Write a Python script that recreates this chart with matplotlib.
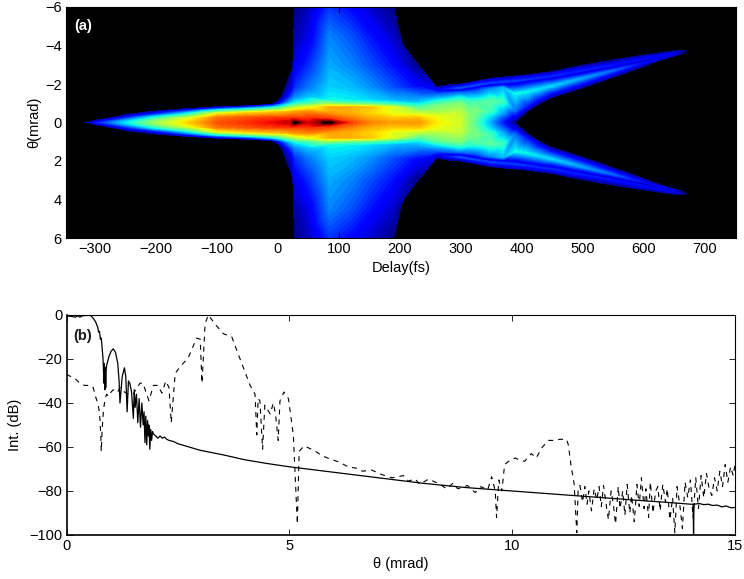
import numpy as np
import matplotlib
matplotlib.use("Agg")
import matplotlib.pyplot as plt
import matplotlib.tri as mtri

plt.rcParams['font.family'] = ['Liberation Sans', 'DejaVu Sans']
plt.rcParams['font.size'] = 10.5
plt.rcParams['text.color'] = '#1a1a1a'

# panel (a), column by column, half of the symmetric map
delays = [-318, -300, -250, -200, -150, -100, -50, -10, 20, 28, 50, 85, 120, 150,
          190, 230, 260, 300, 325, 350, 370, 390, 410, 430, 450, 500, 550, 600, 650, 690]

theta_nodes = [
    [0, .01, .02, .03, .04, .05, .06, .07, .08, 6],
    [0, .03, .06, .09, .12, .14, .16, .18, .2, 6],
    [0, .1, .2, .3, .38, .42, .45, .5, .6, 6],
    [0, .15, .3, .45, .55, .6, .62, .7, .8, 6],
    [0, .2, .4, .55, .65, .72, .75, .8, .9, 6],
    [0, .25, .45, .65, .75, .82, .85, .9, 1, 6],
    [0, .25, .5, .7, .8, .87, .9, .95, 1, 6],
    [0, .25, .55, .75, .88, .95, 1.0, 1.05, 1.1, 6],
    [0, .25, .55, .8, 1.0, 1.3, 1.7, 2.5, 2.7, 6],
    [0, .25, .55, .8, 1, 1.3, 1.8, 3, 4.5, 6],
    [0, .25, .55, .8, 1, 1.3, 1.8, 3, 4.5, 6],
    [0, .2, .5, .8, .95, 1.15, 1.8, 3, 4.5, 6],
    [0, .2, .5, .8, .95, 1.15, 1.8, 3, 4.5, 6],
    [0, .2, .5, .8, .95, 1.15, 1.8, 3, 4.5, 6],
    [0, .2, .5, .8, .95, 1.15, 1.8, 3, 4.5, 6],
    [0, .25, .5, .8, 1, 1.25, 1.9, 3, 3.2, 6],
    [0, .3, .6, .9, 1.2, 1.5, 1.7, 1.85, 2.0, 6],
    [0, .5, 1, 1.3, 1.55, 1.7, 1.8, 1.9, 2.0, 6],
    [0, .3, .6, 1.05, 1.6, 1.85, 1.93, 2.05, 2.15, 6],
    [0, .3, .6, 1.1, 1.75, 1.95, 2.05, 2.2, 2.3, 6],
    [0, .2, .5, 1.1, 1.8, 2.0, 2.1, 2.25, 2.36, 6],
    [0, .05, .15, .6, 1.5, 2.05, 2.15, 2.3, 2.42, 6],
    [0, .3, .6, .85, 1.6, 2.15, 2.23, 2.38, 2.48, 6],
    [0, .7, 1.0, 1.2, 1.75, 2.25, 2.33, 2.47, 2.57, 6],
    [0, 1.0, 1.3, 1.5, 1.9, 2.3, 2.4, 2.55, 2.65, 6],
    [0, 1.5, 1.8, 2.0, 2.3, 2.6, 2.7, 2.85, 2.98, 6],
    [0, 2.0, 2.35, 2.5, 2.7, 2.9, 2.98, 3.1, 3.25, 6],
    [0, 2.6, 2.9, 3.0, 3.1, 3.2, 3.28, 3.4, 3.5, 6],
    [0, 3.2, 3.4, 3.45, 3.5, 3.55, 3.6, 3.65, 3.72, 6],
    [0, 3.6, 3.75, 3.78, 3.8, 3.82, 3.84, 3.86, 3.88, 6],
]

level_nodes = [
    [0, -.1, -.1, -.1, -.1, -.1, -.1, -.1, -.1, -.1],
    [.14, .1, .06, .03, 0, -.1, -.1, -.1, -.1, -.1],
    [.35, .3, .2, .1, .03, 0, -.1, -.1, -.1, -.1],
    [.55, .48, .35, .15, .05, 0, -.1, -.1, -.1, -.1],
    [.68, .62, .42, .25, .1, 0, -.1, -.1, -.1, -.1],
    [.82, .78, .65, .35, .12, 0, -.1, -.1, -.1, -.1],
    [.86, .82, .68, .38, .15, 0, -.1, -.1, -.1, -.1],
    [.9, .84, .68, .4, .18, 0, -.1, -.1, -.1, -.1],
    [.94, .84, .72, .52, .32, .18, .08, 0, -.1, -.1],
    [1.05, .84, .74, .56, .38, .26, .17, .09, .03, 0],
    [.92, .84, .76, .62, .42, .32, .24, .16, .09, .05],
    [1.05, .85, .74, .72, .55, .37, .33, .29, .25, .17],
    [.84, .78, .72, .72, .5, .36, .31, .25, .2, .12],
    [.77, .73, .68, .7, .48, .34, .27, .2, .14, .07],
    [.74, .7, .62, .6, .42, .3, .2, .13, .06, 0],
    [.75, .7, .58, .44, .34, .27, .12, 0, -.1, -.1],
    [.66, .63, .54, .48, .33, .2, .1, 0, -.1, -.1],
    [.6, .58, .5, .37, .22, .08, .2, .1, 0, -.1],
    [.45, .47, .5, .44, .22, .07, .19, .1, 0, -.1],
    [.28, .33, .42, .46, .26, .06, .18, .1, 0, -.1],
    [.14, .18, .28, .42, .3, .07, .18, .1, 0, -.1],
    [-.01, 0, .04, .22, .37, .07, .18, .1, 0, -.1],
    [-.1, -.1, 0, .14, .36, .07, .17, .09, 0, -.1],
    [-.1, -.1, 0, .12, .34, .07, .16, .08, 0, -.1],
    [-.1, -.1, 0, .12, .33, .07, .16, .08, 0, -.1],
    [-.1, -.1, 0, .12, .28, .06, .15, .07, 0, -.1],
    [-.1, -.1, 0, .1, .22, .04, .14, .07, 0, -.1],
    [-.1, -.1, 0, .05, .13, -.02, .13, .07, 0, -.1],
    [-.1, -.1, -.1, 0, .08, .02, .1, .05, 0, -.1],
    [-.1, -.1, -.1, -.1, -.1, -.1, -.1, -.1, -.1, -.1],
]

# panel (b) solid curve
solid_x = [0, .1, .2, .25, .3, .35, .4, .5, .55, .6, .65, .7, .72, .74, .76, .78, .8, .82, .84, .85, .86, .87, .88, .89,
           .9, .95, 1.0, 1.05, 1.1, 1.15, 1.18, 1.2, 1.25, 1.3, 1.33, 1.36, 1.39, 1.42, 1.46, 1.5, 1.52, 1.54,
           1.57, 1.6, 1.63, 1.66, 1.69, 1.72, 1.74, 1.76, 1.78, 1.8, 1.82, 1.84, 1.85, 1.87, 1.89, 1.91, 1.93,
           1.95, 2.0, 2.05, 2.1, 2.15, 2.2, 2.25, 2.3, 2.4, 2.5, 3, 3.5, 4, 4.5, 5, 6, 7, 8, 9, 10, 11, 12,
           13, 13.5, 14, 14.06, 14.07, 14.08, 14.2, 14.3, 14.4, 14.5, 14.6, 14.7, 14.8, 14.9, 15]
solid_y = [-.5, -.6, -1, -.3, -1, -.4, -.3, -.1, -.4, -1.5, -3, -5.5, -7.8, -7.4, -11, -10.5, -15, -20, -31, -22, -34, -24, -33, -25,
           -23, -19, -16.5, -15.4, -17, -22, -30, -40, -28, -24, -28, -44, -30, -31, -35, -47, -34, -42,
           -36, -49, -38, -51, -40, -50, -44, -58, -46, -59, -48, -55, -50, -61, -52, -57, -53,
           -54, -55, -56, -55, -56, -55.5, -56.5, -57, -57.5, -58.5, -61.5, -63.5, -65.8, -67.5, -69, -71.5, -74, -76.5,
           -78.5, -80, -81.5, -83, -84.5, -85.2, -86, -86, -100, -86, -85.7, -86.2, -86, -86.6, -86.4, -87.2, -86.8, -87.6, -87.5]

# panel (b) dashed curve
dashed_x = [0, .1, .2, .3, .4, .5, .53, .6, .65, .7, .73, .75, .77, .78, .8, .83, .87, .9, .95, 1, 1.05, 1.1, 1.15,
            1.2, 1.3, 1.4, 1.5, 1.55, 1.65, 1.72, 1.75, 1.8, 1.85, 1.95, 2.05, 2.14, 2.23, 2.3, 2.35, 2.44, 2.55, 2.73,
            2.92, 3.0, 3.04, 3.11, 3.18, 3.37, 3.52, 3.71, 3.82, 3.97, 4.12, 4.23, 4.27, 4.3, 4.34, 4.4, 4.45, 4.57,
            4.64, 4.69, 4.75, 4.79, 4.88, 4.98, 5.09, 5.18, 5.22, 5.33, 5.55, 5.74, 5.93, 6.1, 6.32, 6.55, 6.64, 6.85,
            7.07, 7.3, 7.56, 7.67, 7.82, 7.93, 8.12, 8.34, 8.53, 8.67, 8.78, 9.0, 9.17, 9.3, 9.45, 9.54, 9.62, 9.65,
            9.7, 9.77, 9.83, 9.95, 10.07, 10.17, 10.28, 10.43, 10.54, 10.66, 10.81, 10.96, 11.07, 11.22, 11.26, 11.33,
            11.39, 11.42, 11.45, 11.48, 11.52, 11.58, 11.63, 11.68, 11.72, 11.78, 11.84, 11.9, 11.95, 12.0, 12.05,
            12.1, 12.16, 12.22, 12.27, 12.32, 12.38, 12.42, 12.48, 12.53, 12.58, 12.64, 12.68, 12.74, 12.8, 12.85,
            12.9, 12.96, 13.0, 13.06, 13.1, 13.16, 13.22, 13.27, 13.32, 13.38, 13.44, 13.48, 13.54, 13.6, 13.65, 13.7,
            13.76, 13.82, 13.88, 13.94, 14.0, 14.06, 14.12, 14.18, 14.24, 14.3, 14.36, 14.42, 14.48, 14.54, 14.6,
            14.66, 14.72, 14.78, 14.84, 14.9, 14.96, 15]
dashed_y = [-27, -28, -29, -31, -32, -32, -32, -33, -37, -40, -43, -47, -55, -62, -52, -43, -38, -36, -37, -35, -34, -34, -35,
            -33, -35, -36, -36, -34, -31, -31, -33, -36, -39, -32, -32, -35.5, -30, -33, -49, -26.5, -23.5, -19.5,
            -10.5, -11, -31, -4, 0, -5, -8.5, -10, -16, -24, -32, -36, -54.5, -38, -39, -61, -41, -45,
            -40, -45, -57, -39, -35, -38, -54.5, -95, -62, -59.5, -61.5, -64, -65.6, -66.7, -69, -69.8, -71, -70.5,
            -72.5, -74, -73, -75.5, -74.5, -77, -74.6, -76.5, -79, -76.5, -79, -77.5, -80.7, -78, -79.5, -73.5, -80, -92,
            -75, -80, -68, -66, -65, -66, -66.5, -63, -65, -60.5, -57, -57, -56.5, -56.5, -59, -69.7,
            -76.6, -88, -99, -80, -77.5, -85, -78, -86, -80, -89, -79, -84, -78, -87, -77.5,
            -85, -93, -80, -86, -95, -78, -88, -80, -91, -77, -90, -82, -94, -77, -87,
            -74, -88, -79, -92, -76, -90, -80, -78, -89, -77, -85, -79, -93, -83, -99, -78,
            -86, -97, -76, -83, -75, -92, -74, -88, -73, -83, -72, -79, -82, -74, -80,
            -71, -78, -68, -76, -69, -73, -68]

xticks_a = [-300, -200, -100, 0, 100, 200, 300, 400, 500, 600, 700]
yticks_a = [-6, -4, -2, 0, 2, 4, 6]
xticks_b = [0, 5, 10, 15]
yticks_b = [-100, -80, -60, -40, -20, 0]


def build_map():
    # mirror the half columns so rows run from -6 through 0 to 6
    th = np.array(theta_nodes, dtype=float)
    lv = np.array(level_nodes, dtype=float)
    y = np.hstack([-th[:, :0:-1], th])
    z = np.hstack([lv[:, :0:-1], lv])
    x = np.repeat(np.array(delays, dtype=float)[:, None], y.shape[1], axis=1)
    nc, nr = y.shape
    mid = nr // 2
    tris = []
    for c in range(nc - 1):
        for r in range(nr - 1):
            a = c * nr + r
            b = a + 1
            d = a + nr
            e = d + 1
            if r >= mid:
                tris.append([a, b, d])
                tris.append([b, e, d])
            else:
                # other diagonal below the axis so the map stays symmetric
                tris.append([a, b, e])
                tris.append([a, e, d])
    return mtri.Triangulation(x.ravel(), y.ravel(), tris), z.ravel()


def main():
    fig = plt.figure(figsize=(7.44, 5.79), dpi=100)
    W, H = 744.0, 579.0
    ax1 = fig.add_axes([66 / W, 1 - 238 / H, 670 / W, 231 / H], facecolor='k')
    ax2 = fig.add_axes([66.5 / W, 1 - 535 / H, 668.5 / W, 220 / H])

    tri, z = build_map()
    cmap = plt.get_cmap('jet').copy()
    cmap.set_over('#200000')
    ax1.tricontourf(tri, z, levels=np.linspace(0, 1, 65), cmap=cmap, extend='max')
    ax1.set_xlim(-348, 752)
    ax1.set_ylim(6, -6)
    ax1.set_xticks(xticks_a)
    ax1.set_yticks(yticks_a)
    ax1.tick_params(direction='in', length=4, width=.6, top=True, right=True, pad=3)
    ax1.set_xlabel('Delay(fs)')
    ax1.xaxis.set_label_coords(.5, -.1)
    ax1.set_ylabel('θ(mrad)')
    ax1.yaxis.set_label_coords(-.037, .5)
    ax1.text(-334, -5, '(a)', color='w', fontweight='bold', va='center')

    ax2.plot(solid_x, solid_y, color='k', lw=.9)
    ax2.plot(dashed_x, dashed_y, color='k', lw=.8, dashes=(4.5, 4.5))
    ax2.set_xlim(0, 15)
    ax2.set_ylim(-100, 0)
    ax2.set_xticks(xticks_b)
    ax2.set_yticks(yticks_b)
    ax2.tick_params(direction='in', length=4, width=.6, top=True, right=True, pad=3)
    ax2.set_xlabel('θ (mrad)')
    ax2.xaxis.set_label_coords(.5, -.1)
    ax2.set_ylabel('Int. (dB)')
    ax2.yaxis.set_label_coords(-.0666, .5)
    ax2.text(.15, -9.5, '(b)', fontweight='bold', va='center')
    for side in ['left', 'bottom']:
        ax2.spines[side].set_linewidth(1.2)
    for side in ['top', 'right']:
        ax2.spines[side].set_linewidth(.8)

    fig.savefig('out.png', dpi=100)


if __name__ == "__main__":
    main()
